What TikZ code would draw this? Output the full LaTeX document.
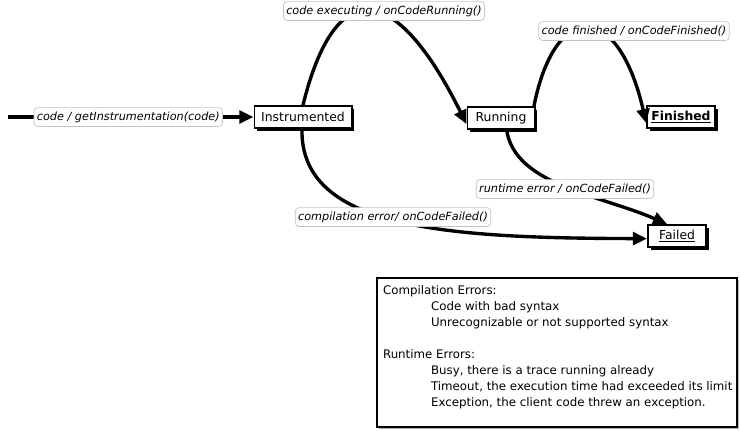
\documentclass[tikz,border=0pt]{standalone}
\usepackage{fontspec}
\setmainfont{DejaVu Sans}
\usetikzlibrary{arrows.meta,positioning,shadows}
\definecolor{lblgray}{RGB}{195,195,195}

\begin{document}
\begin{tikzpicture}[x=0.025cm, y=-0.025cm,
    state/.style={draw, line width=1.4pt, fill=white, minimum height=0.55cm, inner xsep=3pt, font=\fontsize{8.8}{10}\selectfont,
      drop shadow={shadow xshift=2pt, shadow yshift=-2pt, fill=black, opacity=1}},
    lbl/.style={draw=lblgray, line width=0.5pt, rounded corners=2.5pt, fill=white, inner sep=2pt, minimum height=0.47cm, font=\fontsize{8}{10}\selectfont\itshape},
    trans/.style={-{Triangle[length=10pt, width=9pt]}, line width=2.4pt},
    legendbox/.style={draw, line width=1.4pt, fill=white, minimum width=9cm, minimum height=3.725cm,
      drop shadow={shadow xshift=1.2pt, shadow yshift=-1.2pt, fill=black!30, opacity=1}},
    >=Stealth
  ]
  \useasboundingbox (0,0) rectangle (740,430);

  % states
  \coordinate (S) at (8,117);
  \node[state, minimum width=2.425cm] (Inst) at (303,117) {Instrumented};
  \node[state, minimum width=1.675cm] (Run) at (501,118) {Running};
  \node[state, minimum width=1.575cm] (Fin) at (681,117) {\textbf{\underline{Finished}}};
  \node[state, minimum width=1.45cm] (Fail) at (677,236) {\underline{Failed}};

  % transitions
  \draw[trans] (S) -- node[lbl, pos=0.49] (lInit) {code / getInstrumentation(code)} (Inst.west);
  \draw[trans] (Inst.north) .. controls (335,-25) and (395,-20) .. (Run.190);
  \draw[trans] (Run.20) .. controls (555,0) and (618,0) .. (Fin.190);
  \draw[trans] (Run.-65) .. controls (515,185) and (600,195) .. (Fail.130);
  \draw[trans] (Inst.-95) .. controls (300,230) and (450,238) .. (Fail.185);

  % labels
  \node[lbl] (lExec) at (384,11) {code executing / onCodeRunning()};
  \node[lbl] (lFin) at (634,31) {code finished / onCodeFinished()};
  \node[lbl] (lRt) at (565,189) {runtime error / onCodeFailed()};
  \node[lbl] (lCe) at (393,217) {compilation error/ onCodeFailed()};

  % legend
  \node[legendbox] (legend) at (557,352.5) {};
  \node[anchor=north west, align=left, inner sep=0pt, font=\fontsize{8.4}{11.4}\selectfont,
    below right=0.2cm and 0.17cm of legend.north west] (legendtxt) {%
    Compilation Errors:\\
    \hspace*{1.2cm}Code with bad syntax\\
    \hspace*{1.2cm}Unrecognizable or not supported syntax\\[11.4pt]
    Runtime Errors:\\
    \hspace*{1.2cm}Busy, there is a trace running already\\
    \hspace*{1.2cm}Timeout, the execution time had exceeded its limit\\
    \hspace*{1.2cm}Exception, the client code threw an exception.};
\end{tikzpicture}
\end{document}
